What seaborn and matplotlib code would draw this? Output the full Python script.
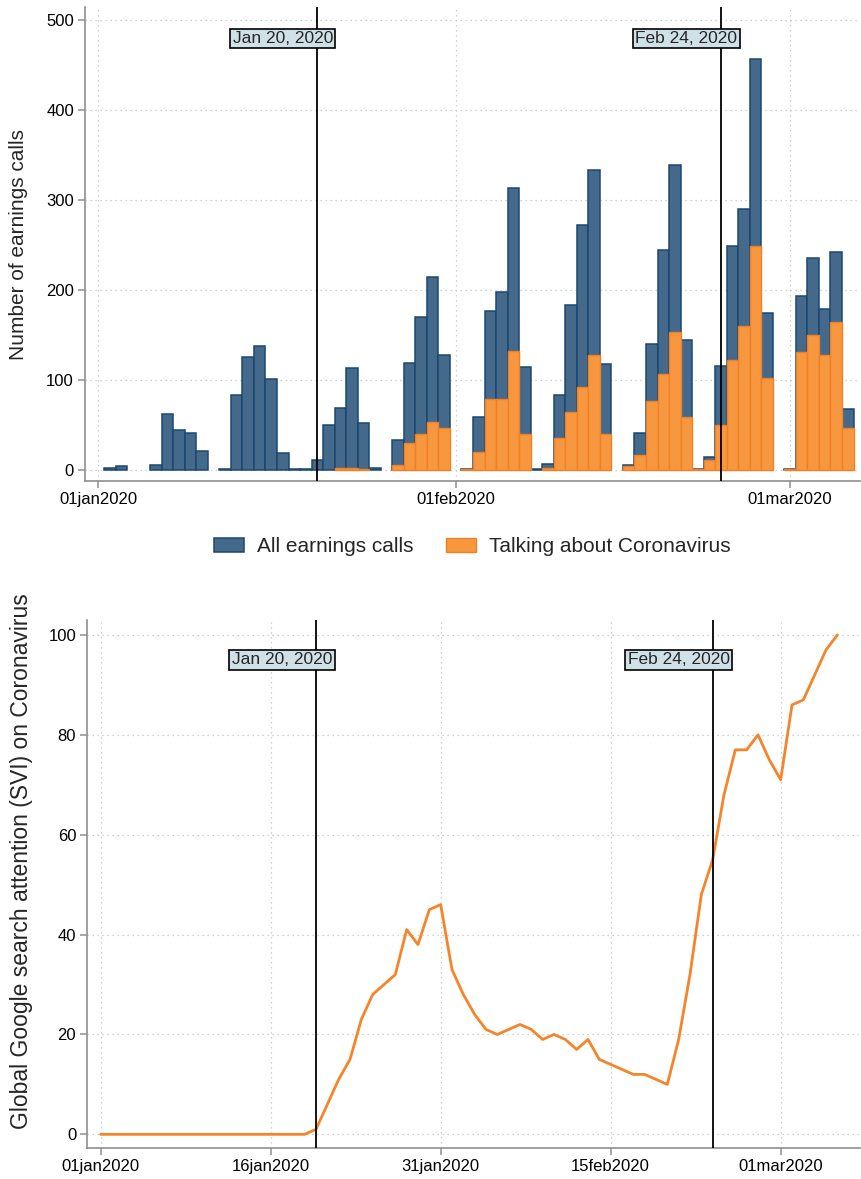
import numpy as np
import pandas as pd
import matplotlib
matplotlib.use("Agg")
import matplotlib.pyplot as plt
import matplotlib.dates as mdates
from matplotlib.patches import Patch
from matplotlib.ticker import FixedLocator, FixedFormatter
import seaborn as sns

# ---------------- data ----------------
call_dates = [
    "2020-01-02", "2020-01-03",
    "2020-01-06", "2020-01-07", "2020-01-08", "2020-01-09", "2020-01-10",
    "2020-01-12", "2020-01-13", "2020-01-14", "2020-01-15", "2020-01-16", "2020-01-17",
    "2020-01-18", "2020-01-19",
    "2020-01-20", "2020-01-21", "2020-01-22", "2020-01-23", "2020-01-24", "2020-01-25",
    "2020-01-27", "2020-01-28", "2020-01-29", "2020-01-30", "2020-01-31",
    "2020-02-02", "2020-02-03", "2020-02-04", "2020-02-05", "2020-02-06", "2020-02-07",
    "2020-02-08", "2020-02-09", "2020-02-10", "2020-02-11", "2020-02-12", "2020-02-13",
    "2020-02-14",
    "2020-02-16", "2020-02-17", "2020-02-18", "2020-02-19", "2020-02-20", "2020-02-21",
    "2020-02-22", "2020-02-23", "2020-02-24", "2020-02-25", "2020-02-26", "2020-02-27",
    "2020-02-28",
    "2020-03-01", "2020-03-02", "2020-03-03", "2020-03-04", "2020-03-05", "2020-03-06",
]
all_calls = [
    2, 4,
    5, 62, 44, 41, 21,
    1, 83, 125, 137, 101, 18,
    1, 1,
    11, 49, 68, 113, 52, 2,
    33, 119, 170, 214, 128,
    1, 59, 176, 198, 313, 114,
    1, 6, 83, 183, 272, 334,
    118,
    5, 41, 140, 244, 339, 144,
    1, 14, 115, 249, 290, 457,
    174,
    1, 193, 236, 179, 242, 67,
]
corona_calls = [
    0, 0,
    0, 0, 0, 0, 0,
    0, 0, 0, 0, 0, 0,
    0, 0,
    0, 0, 2, 2, 1, 0,
    5, 29, 40, 53, 46,
    1, 20, 79, 78, 132, 39,
    0, 2, 35, 64, 92, 128,
    40,
    4, 16, 76, 106, 153, 58,
    1, 11, 49, 122, 160, 249,
    102,
    1, 131, 150, 128, 164, 46,
]

svi_start = "2020-01-01"
svi_values = [
    0, 0, 0, 0, 0, 0, 0, 0, 0, 0, 0, 0, 0, 0, 0, 0, 0, 0, 0,          # Jan 1-19
    1, 6, 11, 15, 23, 28, 30, 32, 41, 38, 45, 46,                    # Jan 20-31
    33, 28, 24, 21, 20, 21, 22, 21, 19, 20, 19, 17, 19, 15, 14,      # Feb 1-15
    13, 12, 12, 11, 10, 19, 32, 48, 55, 68, 77, 77, 80, 75,          # Feb 16-29
    71, 86, 87, 92, 97, 100,                                         # Mar 1-6
]

event_dates = ["2020-01-20", "2020-02-24"]
event_labels = ["Jan 20, 2020", "Feb 24, 2020"]

top_ticks = ["2020-01-01", "2020-02-01", "2020-03-01"]
bottom_ticks = ["2020-01-01", "2020-01-16", "2020-01-31", "2020-02-15", "2020-03-01"]

# ---------------- styling ----------------
sns.set_theme(style="white")
plt.rcParams["font.family"] = ["Liberation Sans", "DejaVu Sans"]

BLUE = "#44698b"
BLUE_EDGE = "#1b4870"
ORANGE = "#f7973f"
ORANGE_EDGE = "#f08026"
LINE_ORANGE = "#f5842a"
AXIS_GRAY = "#8f8f8f"
GRID_GRAY = "#c2c2c2"
BOX_FC = "#cfe1e7"

def dnum(s):
    return mdates.date2num(pd.to_datetime(s))

call_x = np.array([dnum(d) for d in call_dates])
all_arr = np.array(all_calls, dtype=float)
cor_arr = np.array(corona_calls, dtype=float)
svi_dates = pd.date_range(svi_start, periods=len(svi_values), freq="D")
svi_x = np.array([mdates.date2num(d) for d in svi_dates])
jan1 = dnum("2020-01-01")

W, H = 861, 1179
fig = plt.figure(figsize=(W / 100, H / 100), dpi=100)
ax1 = fig.add_axes([85 / W, 1 - 481 / H, (860 - 85) / W, (481 - 7) / H])
ax2 = fig.add_axes([87.3 / W, 1 - 1147.7 / H, (860 - 87.3) / W, (1147.7 - 620) / H])


def style_axes(ax):
    for s in ["top", "right"]:
        ax.spines[s].set_visible(False)
    for s in ["left", "bottom"]:
        ax.spines[s].set_visible(True)
        ax.spines[s].set_color(AXIS_GRAY)
        ax.spines[s].set_linewidth(1.2)
    ax.tick_params(axis="both", direction="out", length=5, width=1.1,
                   color=AXIS_GRAY, labelsize=12, labelcolor="black", pad=3,
                   left=True, bottom=True)
    ax.grid(True, linestyle=(0, (1, 3)), color=GRID_GRAY, linewidth=0.9)
    ax.set_axisbelow(True)


# ---------------- top panel: bars ----------------
sns.barplot(x=call_x, y=all_arr, native_scale=True, width=1, color=BLUE,
            saturation=1, edgecolor=BLUE_EDGE, linewidth=1.1, errorbar=None, ax=ax1)
mask = cor_arr > 0
sns.barplot(x=call_x[mask], y=cor_arr[mask], native_scale=True, width=1, color=ORANGE,
            saturation=1, edgecolor=ORANGE_EDGE, linewidth=1.0, errorbar=None, ax=ax1)

style_axes(ax1)
ax1.set_xlim(jan1 - 1.15, jan1 + 66.06)
ax1.set_ylim(-12.8, 515)
ax1.yaxis.set_major_locator(FixedLocator([0, 100, 200, 300, 400, 500]))
ax1.set_yticklabels(["0", "100", "200", "300", "400", "500"])
tt = [dnum(d) for d in top_ticks]
ax1.xaxis.set_major_locator(FixedLocator(tt))
ax1.xaxis.set_major_formatter(FixedFormatter(
    [pd.to_datetime(d).strftime("%d%b%Y").lower() for d in top_ticks]))
ax1.set_xlabel("")
ax1.set_ylabel("Number of earnings calls", fontsize=15)
ax1.yaxis.set_label_coords(-0.073, 0.5)

for d, lab in zip(event_dates, event_labels):
    x = dnum(d)
    ax1.axvline(x, color="black", linewidth=1.3, zorder=4)
    ax1.text(x - 3, 480, lab, ha="center", va="center", fontsize=12.5, zorder=5,
             bbox=dict(boxstyle="square,pad=0.14", fc=BOX_FC, ec="black", lw=1.2))

legend_handles = [
    Patch(facecolor=BLUE, edgecolor=BLUE_EDGE, linewidth=1.1, label="All earnings calls"),
    Patch(facecolor=ORANGE, edgecolor=ORANGE_EDGE, linewidth=1.0, label="Talking about Coronavirus"),
]
fig.legend(handles=legend_handles, loc="center", bbox_to_anchor=(472.6 / W, 1 - 547 / H),
           ncol=2, frameon=False, fontsize=15, handlelength=1.44, handleheight=0.67,
           handletextpad=0.63, columnspacing=1.54)

# ---------------- bottom panel: line ----------------
sns.lineplot(x=svi_x, y=svi_values, color=LINE_ORANGE, linewidth=2.0, ax=ax2, zorder=3)
style_axes(ax2)
ax2.set_xlim(jan1 - 1.18, jan1 + 67.0)
ax2.set_ylim(-2.68, 103.0)
ax2.yaxis.set_major_locator(FixedLocator([0, 20, 40, 60, 80, 100]))
ax2.set_yticklabels(["0", "20", "40", "60", "80", "100"])
bt = [dnum(d) for d in bottom_ticks]
ax2.xaxis.set_major_locator(FixedLocator(bt))
ax2.xaxis.set_major_formatter(FixedFormatter(
    [pd.to_datetime(d).strftime("%d%b%Y").lower() for d in bottom_ticks]))
ax2.set_xlabel("")
ax2.set_ylabel("Global Google search attention (SVI) on Coronavirus", fontsize=16.5)
ax2.yaxis.set_label_coords(-0.07, 0.543)

for d, lab in zip(event_dates, event_labels):
    x = dnum(d)
    ax2.axvline(x, color="black", linewidth=1.3, zorder=4)
    ax2.text(x - 3, 95, lab, ha="center", va="center", fontsize=12.5, zorder=5,
             bbox=dict(boxstyle="square,pad=0.14", fc=BOX_FC, ec="black", lw=1.2))

fig.savefig("out.png", dpi=100)
